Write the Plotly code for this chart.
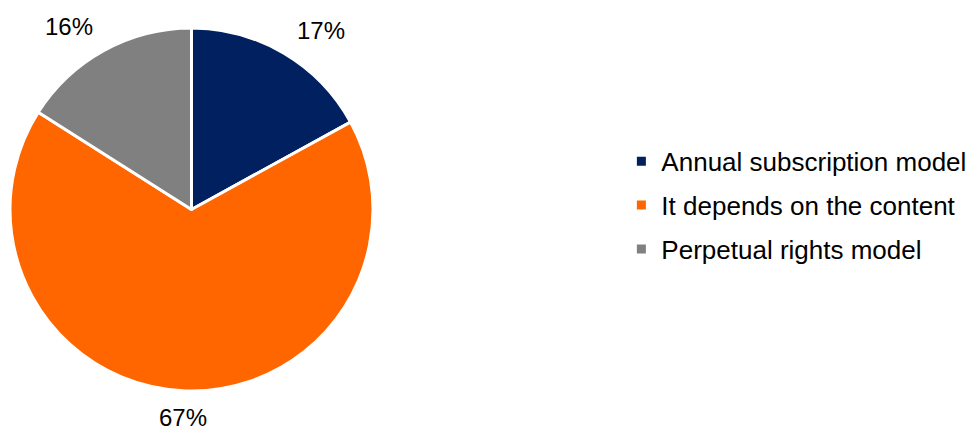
import math
import plotly.graph_objects as go

labels = ["Annual subscription model", "It depends on the content", "Perpetual rights model"]
values = [17, 67, 16]
colors = ["#002060", "#FF6600", "#808080"]

W, H = 977, 427
FONT = "Liberation Sans, Arial, sans-serif"
PCT_SIZE = 24
LEGEND_SIZE = 26

# Pie area in paper coordinates
dom_x = [0.0102, 0.3818]
dom_y = [0.0843, 0.9344]

fig = go.Figure()

fig.add_trace(
    go.Pie(
        labels=labels,
        values=values,
        sort=False,
        direction="clockwise",
        rotation=0,
        marker=dict(colors=colors, line=dict(color="white", width=3)),
        textinfo="none",
        domain=dict(x=dom_x, y=dom_y),
        hoverinfo="label+percent",
        showlegend=False,
    )
)

# Percentage labels outside each slice, on an ellipse around the pie at the slice's mid-angle
cx = (dom_x[0] + dom_x[1]) / 2 * W
cy = (1 - (dom_y[0] + dom_y[1]) / 2) * H
radius = min((dom_x[1] - dom_x[0]) * W, (dom_y[1] - dom_y[0]) * H) / 2
total = sum(values)
pad_x, pad_y = 73, 27
start = 0.0
for v in values:
    frac = v / total
    mid = (start + frac / 2) * 2 * math.pi  # clockwise from 12 o'clock
    dx, dy = math.sin(mid), -math.cos(mid)
    px = cx + (radius + pad_x) * dx
    py = cy + (radius + pad_y) * dy
    fig.add_annotation(
        x=px / W,
        y=1 - py / H,
        xref="paper",
        yref="paper",
        text=f"{round(frac * 100)}%",
        showarrow=False,
        xanchor="center",
        yanchor="middle",
        font=dict(family=FONT, size=PCT_SIZE, color="#000000"),
    )
    start += frac

# Legend entries with small square swatches
for i, (lab, col) in enumerate(zip(labels, colors)):
    fig.add_trace(
        go.Scatter(
            x=[None],
            y=[None],
            mode="markers",
            name=lab,
            legendgroup=f"g{i}",
            marker=dict(symbol="square", size=9, color=col),
            showlegend=True,
            hoverinfo="skip",
        )
    )

fig.update_layout(
    width=W,
    height=H,
    margin=dict(l=0, r=0, t=0, b=0),
    paper_bgcolor="white",
    plot_bgcolor="white",
    xaxis=dict(visible=False),
    yaxis=dict(visible=False),
    showlegend=True,
    legend=dict(
        x=0.636,
        y=0.519,
        xanchor="left",
        yanchor="middle",
        font=dict(family=FONT, size=LEGEND_SIZE, color="#000000"),
        itemsizing="trace",
        tracegroupgap=7,
        bgcolor="rgba(0,0,0,0)",
    ),
)

fig.write_html("out.html")
